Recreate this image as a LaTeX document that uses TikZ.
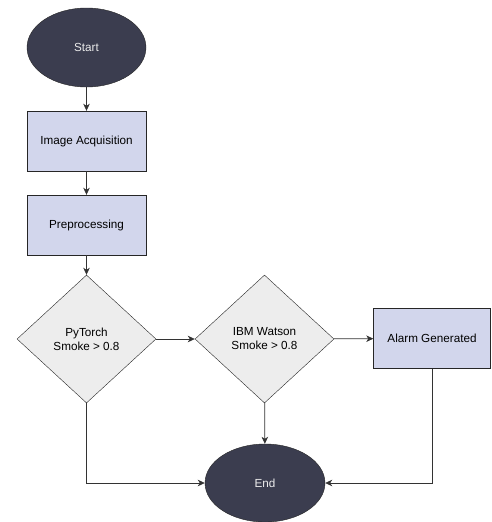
\documentclass[tikz,border=0pt]{standalone}
\usepackage{fontspec}
\setmainfont{Liberation Sans}
\usetikzlibrary{arrows.meta,shapes.geometric}
\definecolor{termfill}{HTML}{3B3D4F}
\definecolor{stepfill}{HTML}{D2D6EC}
\definecolor{testfill}{HTML}{EDEDED}

\begin{document}
\begin{tikzpicture}[x=1pt,y=-1pt,>={Stealth[length=7pt,width=6.5pt,inset=2pt]},
  font=\fontsize{11.7}{14}\selectfont,
  terminal/.style={ellipse,draw=black!85,fill=termfill,text=white!92!black,
    minimum width=119pt,minimum height=79pt,inner sep=0pt},
  stepbox/.style={rectangle,draw=black!85,fill=stepfill,
    minimum width=119pt,minimum height=60pt},
  test/.style={diamond,aspect=1.09,draw=black!85,fill=testfill,
    minimum width=139pt,minimum height=128pt,inner sep=0pt,align=center},
  flow/.style={->,line width=0.8pt,draw=black!80}]
  \useasboundingbox (0,0) rectangle (491,522);

  \node[terminal] (start) at (86.5,47.5) {Start};
  \node[stepbox] (acq) at (86.5,141) {Image Acquisition};
  \node[stepbox] (prep) at (86.5,225) {Preprocessing};
  \node[test] (torch) at (86.5,339) {PyTorch\\Smoke > 0.8};
  \node[test] (watson) at (264.5,339) {IBM Watson\\Smoke > 0.8};
  \node[stepbox,minimum width=117pt] (alarm) at (432,338.5) {Alarm Generated};
  \node[terminal,minimum width=120pt,minimum height=78pt] (end) at (265,483) {End};

  \draw[flow] (start) -- (acq);
  \draw[flow] (acq) -- (prep);
  \draw[flow] (prep) -- (torch);
  \draw[flow] (torch) -- (watson);
  \draw[flow] (watson) -- (alarm);
  \draw[flow] (watson) -- (end);
  \draw[flow] (torch.south) |- (end.west);
  \draw[flow] (alarm.south) |- (end.east);
\end{tikzpicture}
\end{document}
